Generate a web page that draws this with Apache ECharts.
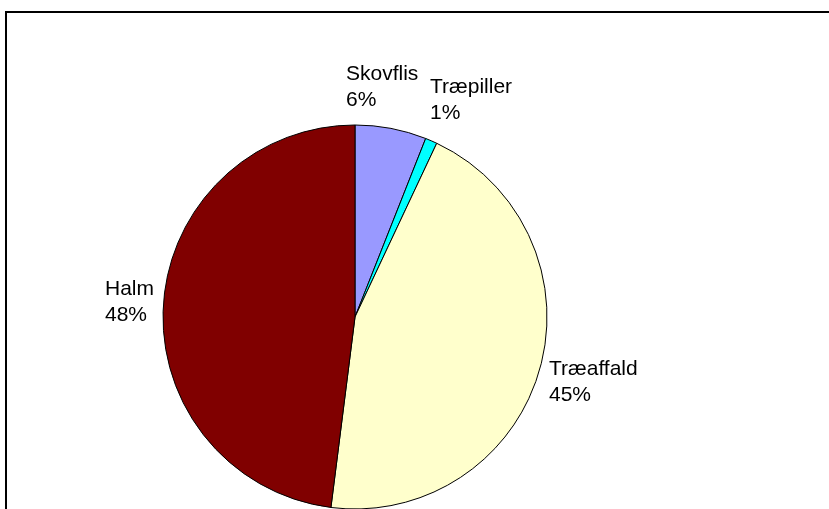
<!DOCTYPE html>
<html>
<head>
<meta charset="utf-8">
<script src="https://cdn.jsdelivr.net/npm/echarts@6/dist/echarts.min.js"></script>
<style>
  html, body { margin: 0; padding: 0; background: #ffffff; }
  #chart { width: 829px; height: 509px; }
</style>
</head>
<body>
<div id="chart"></div>
<script>
// Fuel mix shares (percent), clockwise from 12 o'clock
const categories = ['Skovflis', 'Træpiller', 'Træaffald', 'Halm'];
const shares = [6, 1, 45, 48];

const sliceColors = ['#9999FF', '#00FFFF', '#FFFFCC', '#800000'];

// Where each two-line label sits: left edge x and vertical middle y of the block
const labelSpots = [
  [346, 87],
  [430, 100.5],
  [549, 382],
  [105, 302.5]
];

const chart = echarts.init(document.getElementById('chart'), null, { renderer: 'canvas' });

chart.setOption({
  backgroundColor: '#ffffff',
  animation: false,
  graphic: [{
    type: 'rect',
    shape: { x: 6, y: 12, width: 900, height: 600 },
    style: { fill: 'none', stroke: '#000000', lineWidth: 2 },
    silent: true
  }],
  series: [{
    type: 'pie',
    center: [355, 317],
    radius: 192,
    startAngle: 90,
    clockwise: true,
    avoidLabelOverlap: false,
    data: categories.map((name, i) => ({
      name,
      value: shares[i],
      itemStyle: { color: sliceColors[i] }
    })),
    itemStyle: { borderColor: '#000000', borderWidth: 1 },
    label: {
      show: true,
      position: 'outside',
      formatter: p => p.name + '\n' + Math.round(p.percent) + '%',
      fontFamily: 'Liberation Sans, Arial, sans-serif',
      fontSize: 21,
      lineHeight: 26,
      color: '#000000',
      align: 'left'
    },
    labelLine: { show: false },
    labelLayout: params => ({
      x: labelSpots[params.dataIndex][0],
      y: labelSpots[params.dataIndex][1],
      align: 'left',
      verticalAlign: 'middle'
    }),
    emphasis: { disabled: true }
  }]
});
</script>
</body>
</html>
